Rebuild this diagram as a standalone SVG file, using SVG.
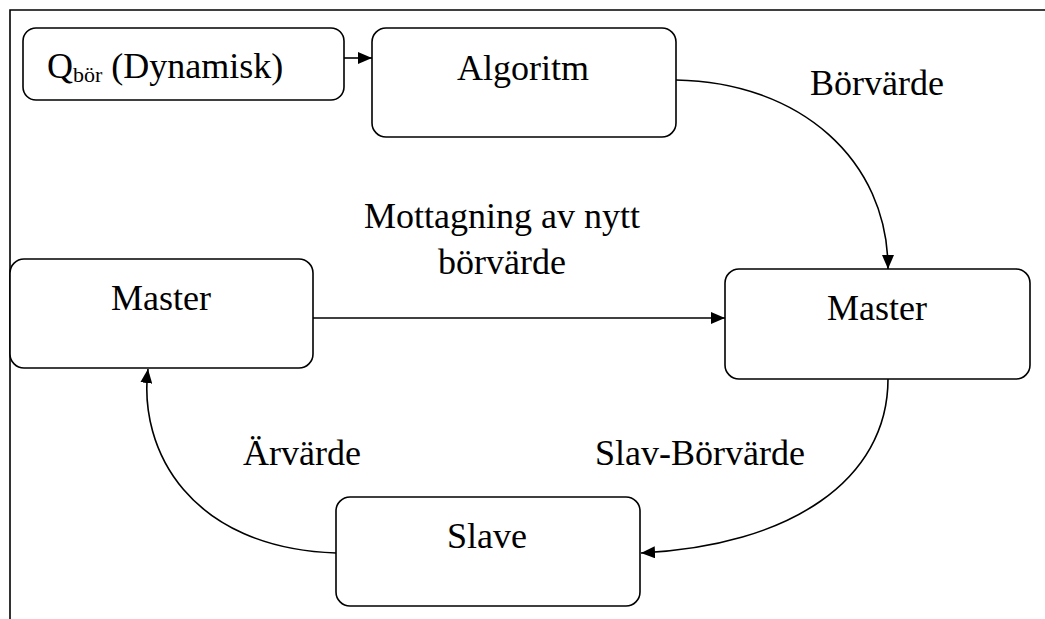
<svg xmlns="http://www.w3.org/2000/svg" width="1045" height="619" viewBox="0 0 1045 619">
<style>
.box{fill:#fff;stroke:#000;stroke-width:1.6}
.t{font-family:"Liberation Serif","Times New Roman",serif;font-size:36px;fill:#000}
.c{fill:none;stroke:#000;stroke-width:1.6}
</style>
<defs>
<marker id="arr" markerUnits="userSpaceOnUse" markerWidth="14" markerHeight="12" refX="14" refY="6" orient="auto">
<path d="M0,0 L14,6 L0,12 Z" fill="#000"/>
</marker>
</defs>
<rect width="1045" height="619" fill="#fff"/>
<path d="M10,619 L10,10 L1045,10" fill="none" stroke="#000" stroke-width="1.6"/>
<g id="connectors">
<path class="c" d="M344,58 L372,58" marker-end="url(#arr)"/>
<path class="c" d="M676,80 C800,82 888,160 888,269" marker-end="url(#arr)"/>
<path class="c" d="M313,318 L725,318" marker-end="url(#arr)"/>
<path class="c" d="M888,379 C888,480 790,546 641,553" marker-end="url(#arr)"/>
<path class="c" d="M336,553 C190,548 138,450 148,369" marker-end="url(#arr)"/>
</g>
<g id="q">
<rect class="box" x="23" y="28" width="321" height="72" rx="13"/>
<text class="t" x="47" y="78">Q<tspan font-size="22" dy="4">bör</tspan><tspan dy="-4"> (Dynamisk)</tspan></text>
</g>
<g id="algoritm">
<rect class="box" x="372" y="28" width="304" height="109" rx="14"/>
<text class="t" x="523" y="80" text-anchor="middle">Algoritm</text>
</g>
<g id="master-right">
<rect class="box" x="725" y="269" width="305" height="110" rx="14"/>
<text class="t" x="877" y="320" text-anchor="middle">Master</text>
</g>
<g id="master-left">
<rect class="box" x="10" y="259" width="303" height="109" rx="14"/>
<text class="t" x="161" y="310" text-anchor="middle">Master</text>
</g>
<g id="slave">
<rect class="box" x="336" y="497" width="304" height="109" rx="14"/>
<text class="t" x="487" y="548" text-anchor="middle">Slave</text>
</g>
<g id="labels">
<text class="t" x="877" y="95" text-anchor="middle">Börvärde</text>
<text class="t" x="502" y="228" text-anchor="middle">Mottagning av nytt</text>
<text class="t" x="502" y="274" text-anchor="middle">börvärde</text>
<text class="t" x="700" y="465" text-anchor="middle">Slav-Börvärde</text>
<text class="t" x="302" y="465" text-anchor="middle">Ärvärde</text>
</g>
</svg>
